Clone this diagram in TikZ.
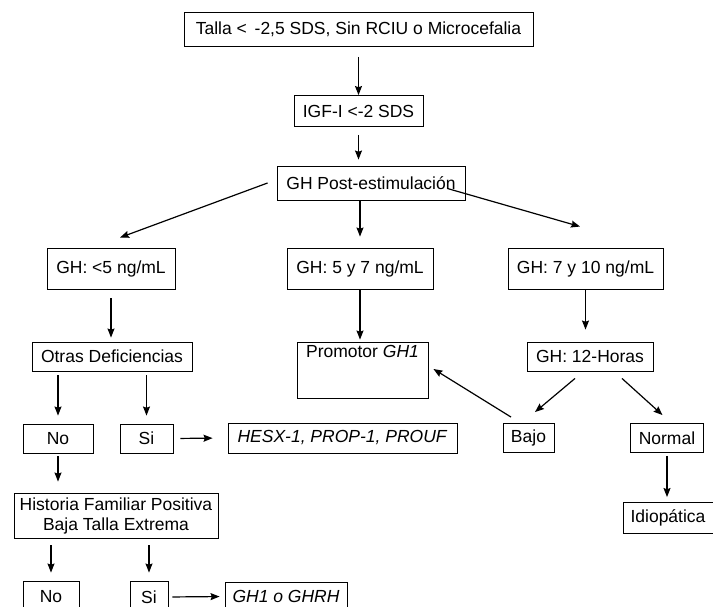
\documentclass[tikz,border=0pt]{standalone}
\usepackage{fontspec}
\setmainfont{Liberation Sans}
\usepackage{tikz}
\usetikzlibrary{arrows.meta}

\begin{document}
\begin{tikzpicture}[x=1pt,y=-1pt,
    box/.style={draw,line width=0.9pt,inner sep=0pt,align=center,
        font=\fontsize{17.5}{20}\selectfont},
    arr/.style={-{Stealth[length=9pt,width=7pt,inset=1.2pt]},line width=1.2pt}]
    \useasboundingbox (0,0) rectangle (713,607);

    % boxes
    \node[box,minimum width=349,minimum height=34] (top) at (358.5,29.5) {Talla <\, -2,5 SDS, Sin RCIU o Microcefalia};
    \node[box,minimum width=129,minimum height=31] (igf) at (358.5,111) {IGF-I <-2 SDS};
    \node[box,minimum width=188,minimum height=34] (post) at (371,183) {GH Post-estimulación};

    \node[box,minimum width=128,minimum height=41] (gh5) at (111,268.5) {GH: <5 ng/mL};
    \node[box,minimum width=146,minimum height=41] (gh57) at (360,268.5) {GH: 5 y 7 ng/mL};
    \node[box,minimum width=155,minimum height=41] (gh710) at (585.5,268.5) {GH: 7 y 10 ng/mL};

    \node[box,minimum width=160,minimum height=29] (otras) at (112,356.5) {Otras Deficiencias};
    \node[box,minimum width=131,text height=12pt,text depth=37pt,inner ysep=3.5pt] (prom) at (362.5,370) {Promotor \textit{GH1}};
    \node[box,minimum width=126,minimum height=29] (h12) at (590,356.5) {GH: 12-Horas};

    \node[box,minimum width=70,minimum height=29] (no1) at (58,438.5) {No};
    \node[box,minimum width=53,minimum height=29] (si1) at (146.5,438.5) {Si};
    \node[box,minimum width=229,minimum height=30] (hesx) at (342.5,438) {\textit{HESX-1, PROP-1, PROUF}};
    \node[box,minimum width=51,minimum height=29] (bajo) at (528.5,438) {Bajo};
    \node[box,minimum width=73,minimum height=29] (normal) at (667,438) {Normal};
    \node[box,minimum width=90,minimum height=31] (idio) at (668,518) {Idiopática};

    \node[box,minimum width=204,minimum height=45] (hist) at (116,515.5) {Historia Familiar Positiva\\Baja Talla Extrema};
    \node[box,minimum width=56,minimum height=32] (no2) at (51,597) {No};
    \node[box,minimum width=38,minimum height=32] (si2) at (149,597) {Si};
    \node[box,minimum width=122,minimum height=29] (gh1) at (286,596.5) {\textit{GH1 o GHRH}};

    % arrows
    \draw[arr,shorten <=10pt] (top) -- (igf);
    \draw[arr,shorten <=8pt,shorten >=6pt] (igf.south) -- (igf.south |- post.north);
    \draw[arr] ([xshift=-9pt]post.west) -- ([xshift=9pt,yshift=10pt]gh5.north);
    \draw[arr,shorten >=11pt] (gh57.north |- post.south) -- (gh57.north);
    \draw[arr] ([xshift=-18pt,yshift=-5.5pt]post.east) -- ([xshift=-5.5pt,yshift=21pt]gh710.north);

    \draw[arr,shorten <=9pt,shorten >=4pt] (gh5.south) -- (gh5.south |- otras.north);
    \draw[arr,shorten >=2pt] (gh57.south) -- (gh57.south |- prom.north);
    \draw[arr,shorten >=12pt] (gh710.south) -- (gh710.south |- h12.north);

    \draw[arr] ([xshift=-15pt,yshift=-7pt]h12.south) -- ([xshift=6.5pt,yshift=11pt]bajo.north);
    \draw[arr] ([xshift=32pt,yshift=-7pt]h12.south) -- ([xshift=-4.5pt,yshift=8pt]normal.north);
    \draw[arr,shorten <=3pt,shorten >=5pt] (normal.south) -- (normal.south |- idio.north);
    \draw[arr] ([xshift=-17.5pt,yshift=6pt]bajo.north) -- ([xshift=5pt,yshift=1pt]prom.east);

    \draw[arr,shorten <=4pt,shorten >=8pt] (no1.north |- otras.south) -- (no1.north);
    \draw[arr,shorten <=4pt,shorten >=8pt] (si1.north |- otras.south) -- (si1.north);
    \draw[arr,shorten <=7pt,shorten >=15pt] (si1.east) -- (hesx.west);

    \draw[arr,shorten <=3pt,shorten >=11pt] (no1.south) -- (no1.south |- hist.north);
    \draw[arr,shorten <=7pt,shorten >=8pt] (no2.north |- hist.south) -- (no2.north);
    \draw[arr,shorten <=7pt,shorten >=8pt] (si2.north |- hist.south) -- (si2.north);
    \draw[arr,shorten <=4pt,shorten >=5pt] (si2.east) -- (gh1.west);
\end{tikzpicture}
\end{document}
